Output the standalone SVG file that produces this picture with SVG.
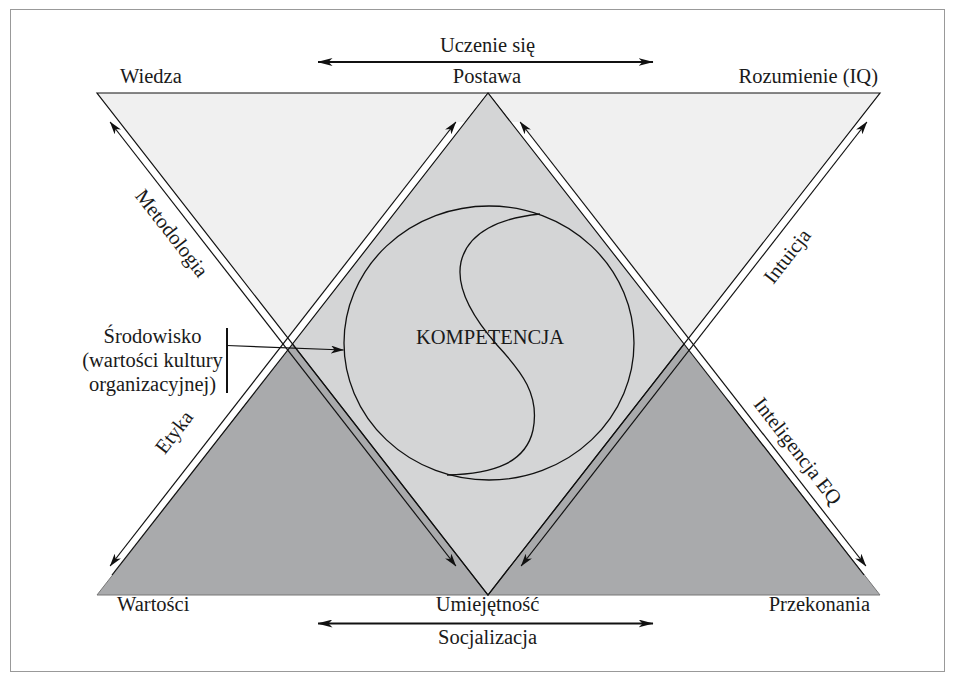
<svg xmlns="http://www.w3.org/2000/svg" width="955" height="682" viewBox="0 0 955 682">
<defs>
<style>
text{font-family:"Liberation Serif","Times New Roman",serif;font-size:20.5px;fill:#1a1a1a}
.edge{fill:none;stroke:#111;stroke-width:1.2;stroke-linejoin:miter}
.arr{fill:none;stroke:#111;stroke-width:1.2;marker-start:url(#as);marker-end:url(#as)}
.harr{fill:none;stroke:#111;stroke-width:2.2;marker-start:url(#ah);marker-end:url(#ah)}
</style>
<marker id="as" viewBox="0 0 13 8" refX="12.5" refY="4" markerWidth="13" markerHeight="8" markerUnits="userSpaceOnUse" orient="auto-start-reverse"><path d="M0,0 L13,4 L0,8 L3.5,4 z" fill="#111"/></marker>
<marker id="ah" viewBox="0 0 15 8" refX="14.5" refY="4" markerWidth="15" markerHeight="8" markerUnits="userSpaceOnUse" orient="auto-start-reverse"><path d="M0,0 L15,4 L0,8 L4,4 z" fill="#111"/></marker>
</defs>
<rect x="0" y="0" width="955" height="682" fill="#fff"/>
<rect x="10.5" y="9.5" width="934" height="662" fill="none" stroke="#999" stroke-width="1"/>

<g id="upper-triangle">
<polygon points="97,93 880,93 488,595" fill="#f0f0f0"/>
</g>
<g id="lower-triangle">
<polygon points="97,595 880,595 488,93" fill="#a9aaac" stroke="#777" stroke-width="1"/>
</g>
<g id="diamond">
<polygon points="488,93 292.5,344 488,595 684,344" fill="#d4d5d6"/>
</g>
<g id="strips" fill="#fff">
<polygon points="465.4,122 455.9,122 239.4,400 248.9,400"/>
<polygon points="510.6,122 520.1,122 736.6,400 727.1,400"/>
</g>
<g id="outlines">
<polygon class="edge" points="97,93 880,93 488,595"/>
<polygon class="edge" points="488,93 292.5,344 488,595 684,344"/>
<line class="edge" x1="292.5" y1="344" x2="112" y2="575"/>
<line class="edge" x1="684" y1="344" x2="864" y2="575"/>
</g>

<g id="connectors">
<line class="arr" x1="110.1" y1="122" x2="455.9" y2="566"/>
<line class="arr" x1="110.1" y1="566" x2="455.9" y2="122"/>
<line class="arr" x1="865.9" y1="566" x2="520.1" y2="122"/>
<line class="arr" x1="521.1" y1="566" x2="866.9" y2="122"/>
<line class="harr" x1="318" y1="62" x2="653" y2="62"/>
<line class="harr" x1="318" y1="623.5" x2="653" y2="623.5"/>
<line x1="227" y1="328" x2="227" y2="393" stroke="#111" stroke-width="2"/>
<line x1="227" y1="345.5" x2="343.5" y2="350" stroke="#111" stroke-width="1.2" marker-end="url(#as)"/>
</g>

<g id="kompetencja">
<ellipse cx="489" cy="343" rx="145" ry="137" fill="none" stroke="#111" stroke-width="1.3"/>
<path d="M540,214 C500,218 468,232 461,262 C455,290 475,320 497,345 C522,372 540,395 533,430 C526,462 495,474 447,475" fill="none" stroke="#111" stroke-width="1.3"/>
<text x="490" y="344" text-anchor="middle">KOMPETENCJA</text>
</g>

<g id="labels">
<text x="120" y="83">Wiedza</text>
<text x="487.5" y="52" text-anchor="middle">Uczenie się</text>
<text x="487" y="83" text-anchor="middle">Postawa</text>
<text x="878" y="83" text-anchor="end">Rozumienie (IQ)</text>
<text x="117" y="611">Wartości</text>
<text x="487.5" y="611" text-anchor="middle">Umiejętność</text>
<text x="487.5" y="644" text-anchor="middle">Socjalizacja</text>
<text x="870" y="611" text-anchor="end">Przekonania</text>
<text transform="translate(172,233) rotate(52.1)" y="7" text-anchor="middle">Metodologia</text>
<text transform="translate(787,256) rotate(-52.1)" y="7" text-anchor="middle">Intuicja</text>
<text transform="translate(798,451) rotate(52.1)" y="7" text-anchor="middle">Inteligencja EQ</text>
<text transform="translate(174,432) rotate(-52.1)" y="7" text-anchor="middle">Etyka</text>
</g>
<g id="srodowisko">
<text x="152.5" y="343" text-anchor="middle">Środowisko</text>
<text x="152.5" y="367" text-anchor="middle">(wartości kultury</text>
<text x="152.5" y="391" text-anchor="middle">organizacyjnej)</text>
</g>
</svg>
